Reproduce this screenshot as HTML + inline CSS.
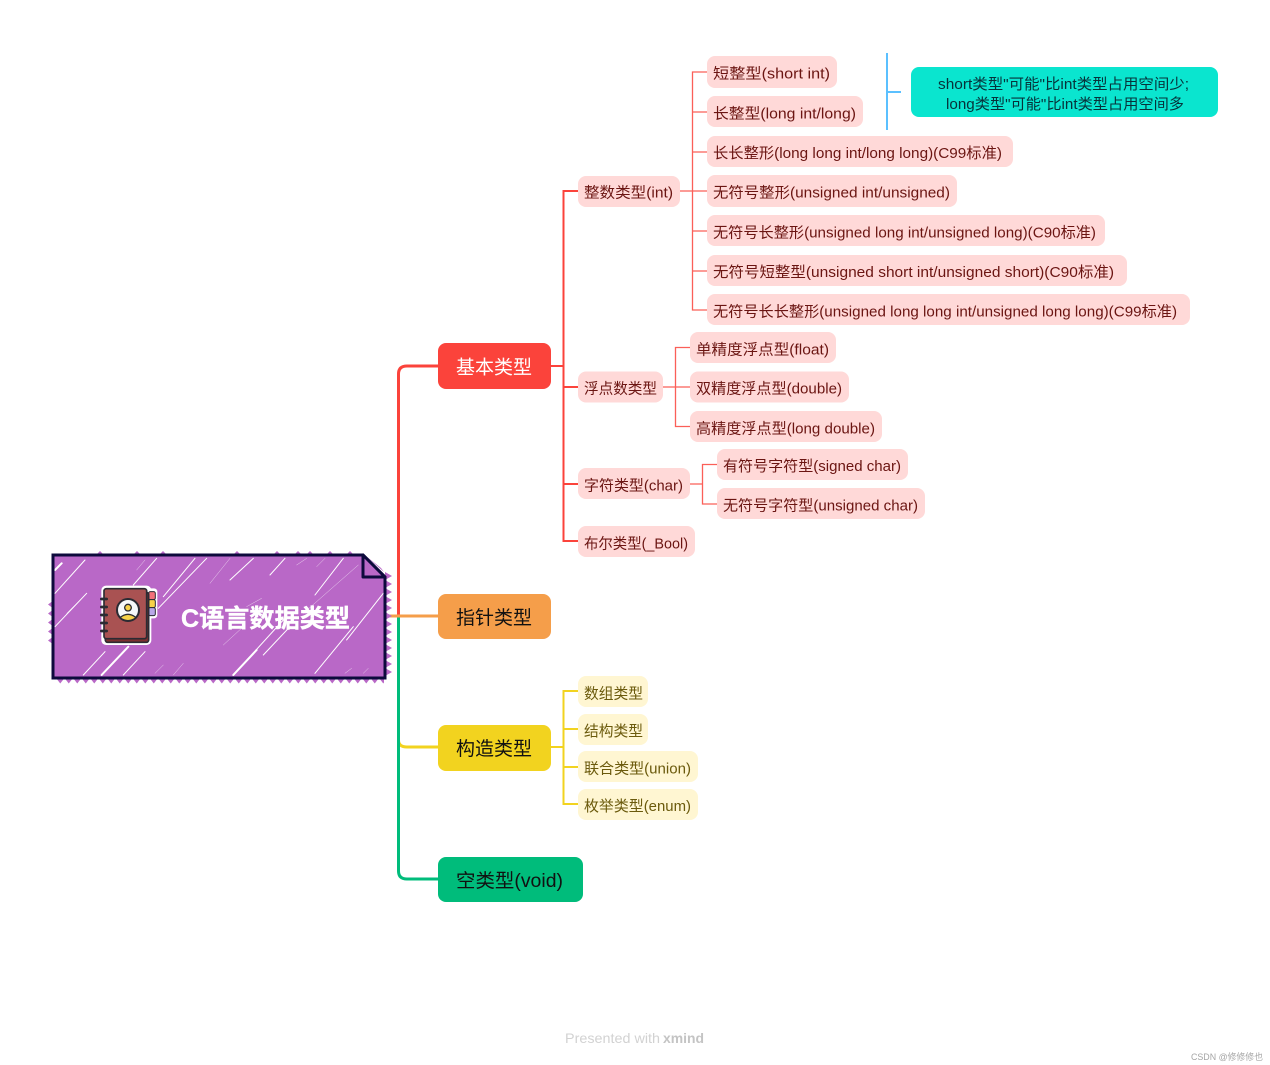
<!DOCTYPE html>
<html><head><meta charset="utf-8"><style>
html,body{margin:0;padding:0;background:#fff}
svg{display:block}
text{font-family:"Liberation Sans","Noto Sans CJK SC",sans-serif}
.r{fill:#FFD9D8}.y{fill:#FFF6D2}
.rt{fill:#6B1512;font-size:14.6px;transform:translate(0,.7px)}
.yt{fill:#6B5A0C;font-size:14.6px;transform:translate(0,.5px)}
.m{font-size:19px;fill:#111}
</style></head><body>
<svg width="1270" height="1065" viewBox="0 0 1270 1065" xmlns="http://www.w3.org/2000/svg">
<defs>
<clipPath id="c"><polygon points="53,555 363,555 385,577 385,678 53,678"/></clipPath>
<pattern id="zb" x="56" y="678" width="8.500" height="6" patternUnits="userSpaceOnUse"><polygon points="0,0 8.500,0 4.250,5.500" fill="#B968C7"/></pattern>
<pattern id="zr" x="385" y="572" width="7" height="8" patternUnits="userSpaceOnUse"><polygon points="0,0 7,4 0,8" fill="#B968C7"/></pattern>
<pattern id="zl" x="48" y="600" width="6" height="9" patternUnits="userSpaceOnUse"><polygon points="6,0 0,4.500 6,9" fill="#B968C7"/></pattern>
</defs>
<rect x="0" y="0" width="1270" height="1065" fill="#fff"/>

<!-- trunk connectors -->
<g fill="none" stroke-width="3">
<path d="M386 616H398.500V374Q398.500 366 407 366H438" stroke="#FB433B"/>
<path d="M398.500 616V740Q398.500 747 407 747H438" stroke="#F2D31F"/>
<path d="M398.500 616V871Q398.500 879 407 879H438" stroke="#00BC7B"/>
<path d="M386 616H438" stroke="#F59E4A"/>
</g>

<!-- level connectors -->
<g fill="none" stroke="#FB433B" stroke-width="2">
<path d="M551 366H563.500M578 191H563.500V541H578M563.500 387H578M563.500 484H578"/>
</g>
<g fill="none" stroke="#FB5F58" stroke-width="1.300">
<path d="M680 191H692.500M707 72H692.500V310H707M692.500 112H707M692.500 152H707M692.500 191H707M692.500 231H707M692.500 271H707"/>
<path d="M663 387H690M690 347.500H675.500V426.500H690"/>
<path d="M690 484H702.500M717 464.500H702.500V504H717"/>
</g>
<path d="M551 747H563.500M578 691H563.500V804H578M563.500 729H578M563.500 767H578" fill="none" stroke="#F2D31F" stroke-width="2"/>
<path d="M887 53V130M887 92H901" fill="none" stroke="#5BC0FF" stroke-width="2"/>

<!-- root sawtooth edge -->
<rect x="56" y="678" width="328" height="6" fill="url(#zb)"/>
<rect x="385" y="572" width="7" height="104" fill="url(#zr)"/>
<rect x="48" y="600" width="6" height="45" fill="url(#zl)"/>
<path d="M96 555L100 551L104 555ZM133 555L137 551L141 555ZM159 555L163 551L167 555ZM233 555L237 551L241 555ZM273 555L277 551L281 555ZM294 555L298 551L302 555ZM306 555L310 551L314 555ZM326 555L330 551L334 555ZM346 555L350 551L354 555ZM366 556L381 568L384 572Z" fill="#B968C7"/>
<polygon points="53,555 363,555 385,577 385,678 53,678" fill="#B968C7"/>
<g clip-path="url(#c)">
<g transform="translate(30,530) scale(.3333)" stroke="#fff" fill="none" stroke-linecap="round">
<path stroke-width="3" d="M75 190L165 90M75 290L170 190M310 165L380 85M400 200L495 85M385 235L530 85M600 150L670 85M720 135L765 85M855 195L940 85M160 435L225 365M280 435L345 365M610 435L760 270M855 430L970 290M950 330L1060 190M700 375L780 290"/>
<path stroke-width="6" d="M215 435L295 350M610 435L680 360M75 120L95 100"/>
<path stroke-width="1.500" opacity=".7" d="M110 250L170 190M320 120L345 90M800 105L830 85M860 110L885 85M580 345L640 290M650 230L695 205M375 430L400 405M430 435L460 400M945 430L965 415M1000 430L1015 415M540 160L600 85M820 250L985 105"/>
</g>
</g>
<path d="M53 555H363L385 577V678H53Z" fill="none" stroke="#0D0A3C" stroke-width="3"/>
<path d="M363 555V577H385Z" fill="#B968C7" stroke="#0D0A3C" stroke-width="3" stroke-linejoin="round"/>

<!-- icon -->
<g transform="translate(90,575) scale(.3333)">
<rect x="170" y="40" width="32" height="90" rx="10" fill="#fff"/>
<rect x="34" y="32" width="150" height="178" rx="14" fill="#fff"/>
<rect x="176" y="50" width="20" height="24" rx="5" fill="#F2707A" stroke="#2b2b33" stroke-width="3"/>
<rect x="176" y="74" width="20" height="24" rx="5" fill="#F7D24A" stroke="#2b2b33" stroke-width="3"/>
<rect x="176" y="98" width="20" height="24" rx="5" fill="#B9A8E8" stroke="#2b2b33" stroke-width="3"/>
<rect x="46" y="52" width="130" height="150" rx="7" fill="#7E2F2F" stroke="#2b2b33" stroke-width="5"/>
<rect x="42" y="41" width="128" height="150" rx="7" fill="#A95252" stroke="#2b2b33" stroke-width="5"/>
<g stroke="#2b2b33" stroke-width="8" stroke-linecap="round"><path d="M34 72H50M34 96H50M34 120H50M34 144H50M34 168H50"/></g>
<circle cx="114" cy="105" r="33" fill="#F6F8FA" stroke="#2b2b33" stroke-width="6"/>
<circle cx="114" cy="98" r="10" fill="#F7D24A" stroke="#2b2b33" stroke-width="4"/>
<path d="M90 128Q114 108 138 128Q114 146 90 128Z" fill="#F7D24A" stroke="#2b2b33" stroke-width="4"/>
</g>
<text x="181" y="627" font-size="25" font-weight="700" fill="#fff" stroke="#fff" stroke-width=".4" textLength="169" lengthAdjust="spacingAndGlyphs">C语言数据类型</text>

<!-- main topics -->
<rect x="438" y="343" width="113" height="46" rx="8" fill="#FB433B"/>
<text x="456" y="373.500" class="m" style="fill:#fff" textLength="76">基本类型</text>
<rect x="438" y="594" width="113" height="45" rx="8" fill="#F59E4A"/>
<text x="456" y="624" class="m" textLength="76">指针类型</text>
<rect x="438" y="725" width="113" height="46" rx="8" fill="#F2D31F"/>
<text x="456" y="755" class="m" textLength="76">构造类型</text>
<rect x="438" y="857" width="145" height="45" rx="8" fill="#00BC7B"/>
<text x="456" y="887" class="m" textLength="107" lengthAdjust="spacingAndGlyphs">空类型(void)</text>

<!-- red level 2 -->
<rect class="r" x="578" y="176" width="102" height="31" rx="8"/>
<text class="rt" x="584" y="197" textLength="89" lengthAdjust="spacingAndGlyphs">整数类型(int)</text>
<rect class="r" x="578" y="371.500" width="85" height="31" rx="8"/>
<text class="rt" x="584" y="393" textLength="73" lengthAdjust="spacingAndGlyphs">浮点数类型</text>
<rect class="r" x="578" y="468" width="112" height="31" rx="8"/>
<text class="rt" x="584" y="490" textLength="99" lengthAdjust="spacingAndGlyphs">字符类型(char)</text>
<rect class="r" x="578" y="526" width="117" height="31" rx="8"/>
<text class="rt" x="584" y="548" textLength="104" lengthAdjust="spacingAndGlyphs">布尔类型(_Bool)</text>

<!-- int children -->
<rect class="r" x="707" y="56" width="130" height="32" rx="8"/>
<text class="rt" x="713" y="78" textLength="117" lengthAdjust="spacingAndGlyphs">短整型(short int)</text>
<rect class="r" x="707" y="96" width="156" height="31" rx="8"/>
<text class="rt" x="713" y="118" textLength="143" lengthAdjust="spacingAndGlyphs">长整型(long int/long)</text>
<rect class="r" x="707" y="136" width="306" height="31" rx="8"/>
<text class="rt" x="713" y="157.500" textLength="289" lengthAdjust="spacingAndGlyphs">长长整形(long long int/long long)(C99标准)</text>
<rect class="r" x="707" y="175" width="250" height="32" rx="8"/>
<text class="rt" x="713" y="197" textLength="237" lengthAdjust="spacingAndGlyphs">无符号整形(unsigned int/unsigned)</text>
<rect class="r" x="707" y="215" width="398" height="31" rx="8"/>
<text class="rt" x="713" y="237" textLength="383" lengthAdjust="spacingAndGlyphs">无符号长整形(unsigned long int/unsigned long)(C90标准)</text>
<rect class="r" x="707" y="255" width="420" height="31" rx="8"/>
<text class="rt" x="713" y="276.500" textLength="401" lengthAdjust="spacingAndGlyphs">无符号短整型(unsigned short int/unsigned short)(C90标准)</text>
<rect class="r" x="707" y="294" width="483" height="31" rx="8"/>
<text class="rt" x="713" y="316" textLength="464" lengthAdjust="spacingAndGlyphs">无符号长长整形(unsigned long long int/unsigned long long)(C99标准)</text>

<!-- float children -->
<rect class="r" x="690" y="332" width="146" height="31" rx="8"/>
<text class="rt" x="696" y="354" textLength="133" lengthAdjust="spacingAndGlyphs">单精度浮点型(float)</text>
<rect class="r" x="690" y="371.500" width="159" height="31" rx="8"/>
<text class="rt" x="696" y="393" textLength="146" lengthAdjust="spacingAndGlyphs">双精度浮点型(double)</text>
<rect class="r" x="690" y="411" width="192" height="31" rx="8"/>
<text class="rt" x="696" y="433" textLength="179" lengthAdjust="spacingAndGlyphs">高精度浮点型(long double)</text>

<!-- char children -->
<rect class="r" x="717" y="449" width="191" height="31" rx="8"/>
<text class="rt" x="723" y="470.500" textLength="178" lengthAdjust="spacingAndGlyphs">有符号字符型(signed char)</text>
<rect class="r" x="717" y="488" width="208" height="31" rx="8"/>
<text class="rt" x="723" y="510" textLength="195" lengthAdjust="spacingAndGlyphs">无符号字符型(unsigned char)</text>

<!-- yellow children -->
<rect class="y" x="578" y="676" width="70" height="31" rx="8"/>
<text class="yt" x="584" y="698" textLength="59" lengthAdjust="spacingAndGlyphs">数组类型</text>
<rect class="y" x="578" y="714" width="70" height="31" rx="8"/>
<text class="yt" x="584" y="735.500" textLength="59" lengthAdjust="spacingAndGlyphs">结构类型</text>
<rect class="y" x="578" y="751" width="120" height="31" rx="8"/>
<text class="yt" x="584" y="773" textLength="107" lengthAdjust="spacingAndGlyphs">联合类型(union)</text>
<rect class="y" x="578" y="789" width="120" height="31" rx="8"/>
<text class="yt" x="584" y="810.500" textLength="107" lengthAdjust="spacingAndGlyphs">枚举类型(enum)</text>

<!-- summary -->
<rect x="911" y="67" width="307" height="50" rx="8" fill="#0AE5CF"/>
<text x="938" y="89" font-size="14.600" fill="#07323A" textLength="251" lengthAdjust="spacingAndGlyphs">short类型"可能"比int类型占用空间少;</text>
<text x="946" y="109" font-size="14.600" fill="#07323A" textLength="238" lengthAdjust="spacingAndGlyphs">long类型"可能"比int类型占用空间多</text>

<!-- footer -->
<text x="565" y="1043" font-size="14" fill="#D2D2D2" textLength="95" lengthAdjust="spacingAndGlyphs">Presented with</text>
<text x="663" y="1043" font-size="14" font-weight="700" fill="#C4C4C4" textLength="41" lengthAdjust="spacingAndGlyphs">xmind</text>
<text x="1191" y="1060" font-size="9" fill="#A5A5A5" textLength="72" lengthAdjust="spacingAndGlyphs">CSDN @修修修也</text>
</svg>
</body></html>
